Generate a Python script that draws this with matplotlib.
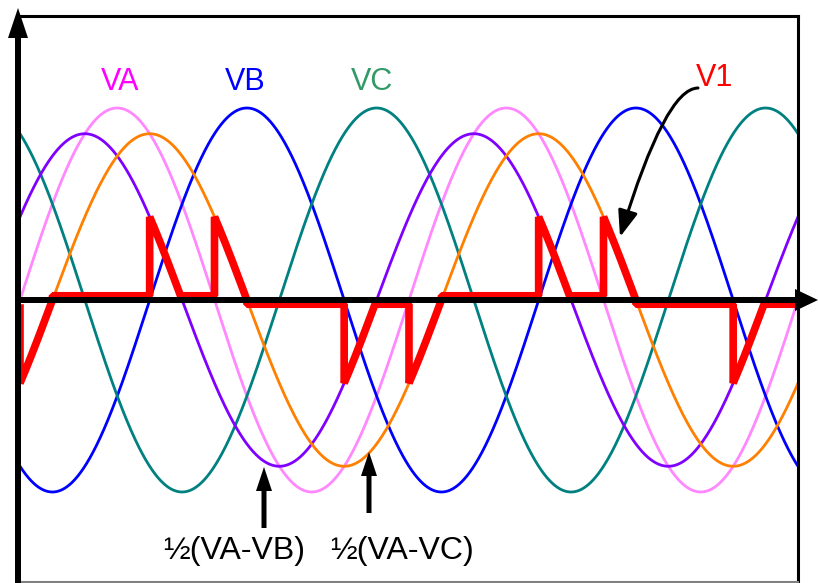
import numpy as np
import matplotlib
matplotlib.use('Agg')
import matplotlib.pyplot as plt

plt.rcParams['font.family'] = ['Liberation Sans', 'DejaVu Sans']

# waves: amplitude (VA = 1) and phase shift in degrees
wave_names = ['VA', 'VB', 'VC', '½(VA-VB)', '½(VA-VC)']
wave_amps = [1.0, 1.0, 1.0, 0.866, 0.866]
wave_phase = [0, -120, -240, 30, -30]
wave_colors = ['#FF88FF', '#0000FF', '#008080', '#8000FF', '#FF8000']

# V1: pieces where it follows one of the half line-to-line voltages
v1_start = [0, 120, 180, 300, 360, 480, 540, 660]
v1_end = [30, 150, 210, 330, 390, 510, 570, 690]
v1_source = ['½(VA-VC)', '½(VA-VB)', '½(VA-VC)', '½(VA-VB)',
             '½(VA-VC)', '½(VA-VB)', '½(VA-VC)', '½(VA-VB)']
# small level V1 sits at between the pieces (above / below the axis)
v1_idle = [0.022, 0.022, -0.022, -0.022, 0.022, 0.022, -0.022, -0.022]

theta = np.linspace(0, 720, 2881)
waves = {}
for name, a, ph in zip(wave_names, wave_amps, wave_phase):
    waves[name] = a * np.sin(np.radians(theta + ph))

v1 = np.zeros_like(theta)
for i in range(len(v1_start)):
    nxt = v1_start[i + 1] if i + 1 < len(v1_start) else 720
    on = (theta >= v1_start[i]) & (theta < v1_end[i])
    off = (theta >= v1_end[i]) & (theta < nxt)
    v1[on] = waves[v1_source[i]][on]
    v1[off] = v1_idle[i]
v1[-1] = v1_idle[-1]
# vertical jumps: duplicate the point before each step
xs, ys = [], []
for i in range(len(theta)):
    if i > 0 and abs(v1[i] - v1[i - 1]) > 0.2:
        xs.append(theta[i]); ys.append(v1[i - 1])
    xs.append(theta[i]); ys.append(v1[i])
xs = [0] + xs
ys = [v1_idle[-1]] + ys

W, H = 818, 583
fig = plt.figure(figsize=(W / 100, H / 100), dpi=100)
ax = fig.add_axes([20 / W, 1 / H, 778 / W, 566 / H])
ax.set_xlim(0, 720)
ax.set_ylim(-(582 - 300) / 192, (300 - 16) / 192)
ax.set_xticks([])
ax.set_yticks([])
ax.spines['left'].set_visible(False)
ax.spines['top'].set_linewidth(2.2)
ax.spines['right'].set_linewidth(2.2)
ax.spines['bottom'].set_color('#808080')
ax.spines['bottom'].set_linewidth(1.5)


def px_x(x):
    return (x - 20) * 720 / 778


def px_y(y):
    return (300 - y) / 192


for name, col in zip(wave_names, wave_colors):
    ax.plot(theta, waves[name], color=col, lw=2.0, zorder=2)

ax.plot(xs, ys, color='#FF0000', lw=5.5, zorder=3,
        solid_joinstyle='bevel', solid_capstyle='butt')

# axes with arrows
xs_per_px = 720 / 778
ax.arrow(px_x(18), px_y(583), 0, px_y(8) - px_y(583), width=6 * xs_per_px,
         head_width=20 * xs_per_px, head_length=30 / 192, length_includes_head=True,
         color='black', lw=0, clip_on=False, zorder=5)
ax.arrow(px_x(15), 0, px_x(818) - px_x(15), 0, width=6 / 192,
         head_width=22 / 192, head_length=23 * xs_per_px, length_includes_head=True,
         color='black', lw=0, clip_on=False, zorder=5)

# labels
ax.text(px_x(120), px_y(82), 'VA', color='#FF00FF', fontsize=22, ha='center', va='center')
ax.text(px_x(245), px_y(82), 'VB', color='#0000FF', fontsize=22, ha='center', va='center')
ax.text(px_x(372), px_y(82), 'VC', color='#339966', fontsize=22, ha='center', va='center')
ax.text(px_x(715), px_y(78), 'V1', color='#FF0000', fontsize=22, ha='center', va='center')

ax.text(px_x(234), px_y(551), '½(VA-VB)', color='black', fontsize=23, ha='center', va='center',
        clip_on=False)
ax.text(px_x(402), px_y(551), '½(VA-VC)', color='black', fontsize=23, ha='center', va='center',
        clip_on=False)

for x, tail, tip in [(264, 528, 467), (369, 513, 452)]:
    ax.arrow(px_x(x), px_y(tail), 0, px_y(tip) - px_y(tail), width=5 * xs_per_px,
             head_width=16 * xs_per_px, head_length=24 / 192, length_includes_head=True,
             color='black', lw=0, zorder=5)

ax.annotate('', xy=(px_x(620), px_y(237)), xytext=(px_x(698), px_y(88)),
            arrowprops=dict(arrowstyle='-|>,head_length=0.8,head_width=0.3',
                            mutation_scale=20, color='black', lw=2.2,
                            shrinkA=0, shrinkB=0,
                            connectionstyle='angle3,angleA=180,angleB=73'),
            zorder=5)

plt.savefig('out.png', dpi=100)
